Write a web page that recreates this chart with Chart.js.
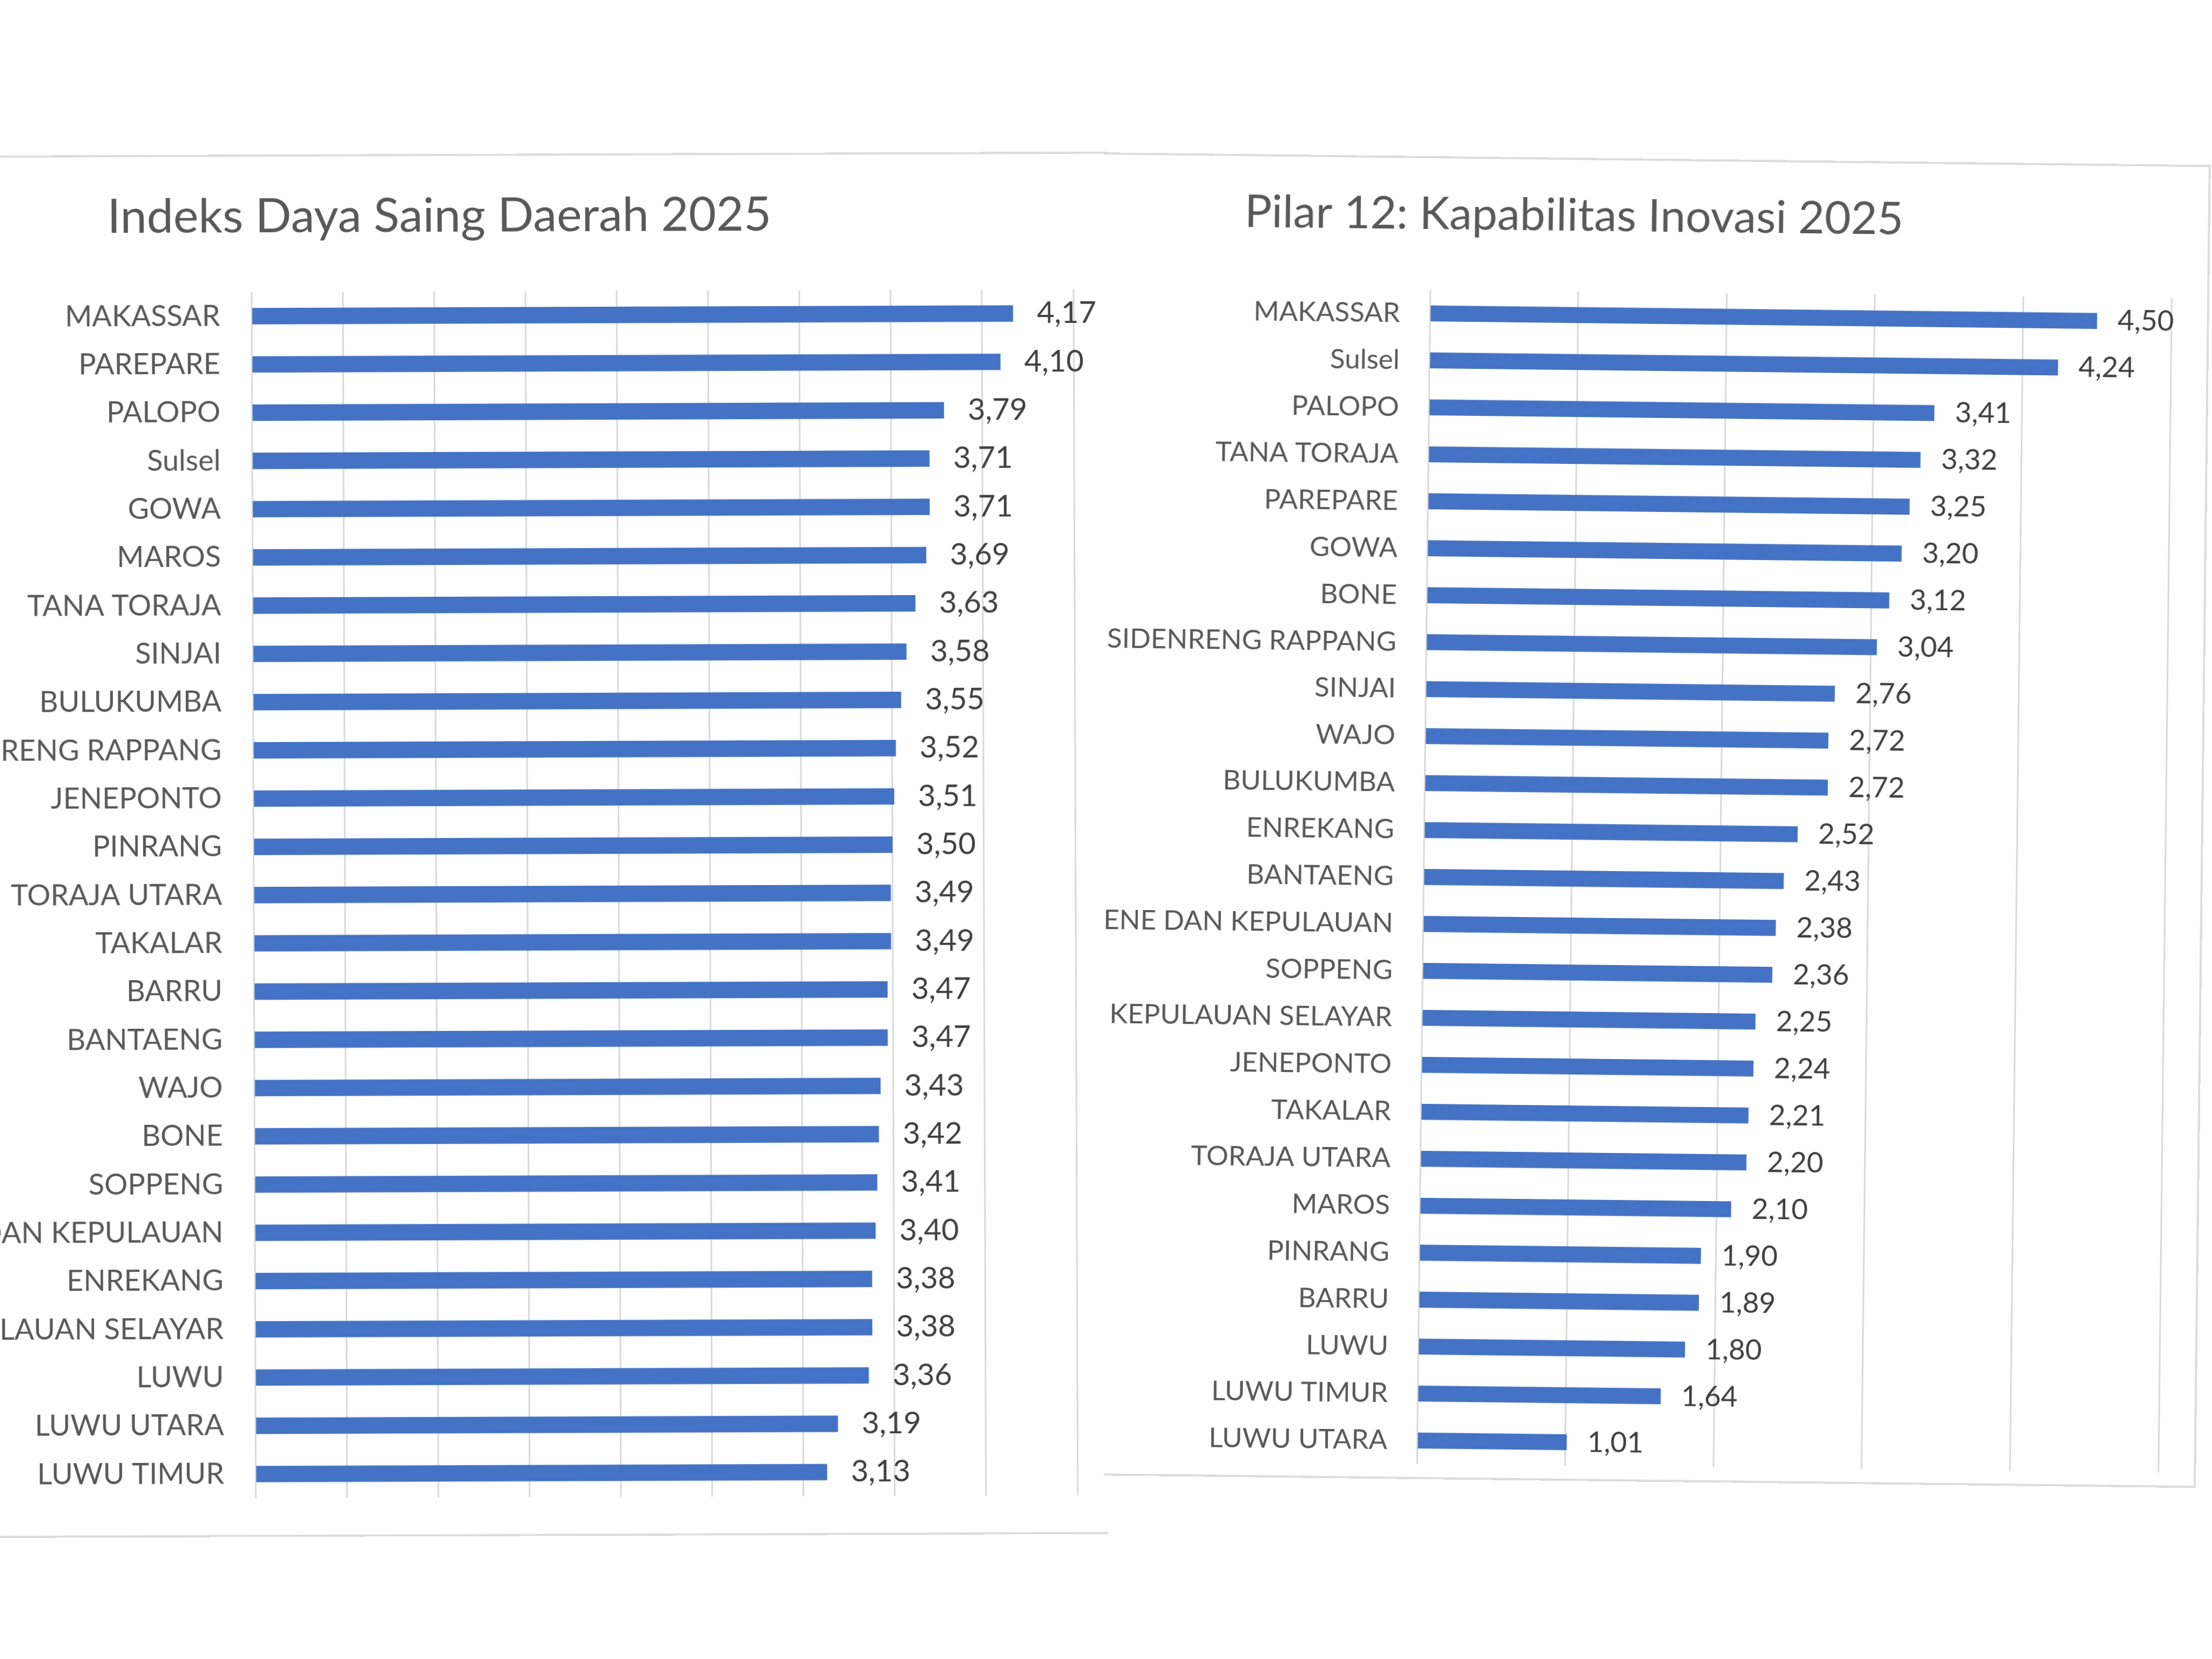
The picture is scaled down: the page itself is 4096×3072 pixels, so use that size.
<!DOCTYPE html>
<html>
<head>
<meta charset="utf-8">
<script src="https://cdn.jsdelivr.net/npm/chart.js@4.4.1/dist/chart.umd.min.js"></script>
<style>
  html, body { margin:0; padding:0; background:#ffffff; }
  body { width:4096px; height:3072px; overflow:hidden; position:relative; }
  #leftClip { position:absolute; left:0; top:0; width:2052px; height:3072px; overflow:hidden; z-index:1; }
  #rightClip { position:absolute; left:2044px; top:0; width:2052px; height:3072px; overflow:hidden; z-index:2; }
  #leftPanel { position:absolute; left:-420px; top:285px; width:2475px; height:2560px; background:#fff;
               transform:rotate(-0.2deg); }
  #rightPanel { position:absolute; left:-320px; top:292px; width:2356px; height:2450px; background:#fff;
               transform:rotate(0.65deg); }
  #leftPanel::after { content:''; position:absolute; left:0; top:0; right:0; bottom:0; pointer-events:none;
               border-top:4px solid #dcdcdc; border-bottom:4px solid #dcdcdc; }
  #rightPanel::after { content:''; position:absolute; left:0; top:0; right:0; bottom:0; pointer-events:none;
               border-top:4px solid #dcdcdc; border-bottom:4px solid #dcdcdc; border-right:4px solid #dcdcdc; }
  .wrap { position:absolute; left:0; top:0; width:100%; height:100%; }
</style>
</head>
<body>
<div id="leftClip"><div id="leftPanel"><div class="wrap"><canvas id="c1"></canvas></div></div></div>
<div id="rightClip"><div id="rightPanel"><div class="wrap"><canvas id="c2"></canvas></div></div></div>
<script>
// ---- Data ----
const leftTitle = "Indeks Daya Saing Daerah 2025";
const leftCategories = ["MAKASSAR","PAREPARE","PALOPO","Sulsel","GOWA","MAROS","TANA TORAJA","SINJAI","BULUKUMBA","SIDENRENG RAPPANG","JENEPONTO","PINRANG","TORAJA UTARA","TAKALAR","BARRU","BANTAENG","WAJO","BONE","SOPPENG","PANGKAJENE DAN KEPULAUAN","ENREKANG","KEPULAUAN SELAYAR","LUWU","LUWU UTARA","LUWU TIMUR"];
const leftValues = [4.17,4.10,3.79,3.71,3.71,3.69,3.63,3.58,3.55,3.52,3.51,3.50,3.49,3.49,3.47,3.47,3.43,3.42,3.41,3.40,3.38,3.38,3.36,3.19,3.13];
const leftAxisMax = 4.5;
const leftAxisStep = 0.5;

const rightTitle = "Pilar 12: Kapabilitas Inovasi 2025";
const rightCategories = ["MAKASSAR","Sulsel","PALOPO","TANA TORAJA","PAREPARE","GOWA","BONE","SIDENRENG RAPPANG","SINJAI","WAJO","BULUKUMBA","ENREKANG","BANTAENG","PANGKAJENE DAN KEPULAUAN","SOPPENG","KEPULAUAN SELAYAR","JENEPONTO","TAKALAR","TORAJA UTARA","MAROS","PINRANG","BARRU","LUWU","LUWU TIMUR","LUWU UTARA"];
const rightValues = [4.50,4.24,3.41,3.32,3.25,3.20,3.12,3.04,2.76,2.72,2.72,2.52,2.43,2.38,2.36,2.25,2.24,2.21,2.20,2.10,1.90,1.89,1.80,1.64,1.01];
const rightAxisMax = 5;
const rightAxisStep = 1;

// ---- Styling ----
const FONT = "Lato, 'Open Sans', sans-serif";
const BAR = "#4472c4";
const GRID = "#d9d9d9";
const TXT = "#595959";
const VAL = "#404040";

const fmt = v => v.toFixed(2).replace('.', ',');

const valueLabels = {
  id: 'valueLabels',
  afterDatasetsDraw(chart, args, opts) {
    const ctx = chart.ctx;
    const meta = chart.getDatasetMeta(0);
    const data = chart.data.datasets[0].data;
    ctx.save();
    ctx.font = opts.size + "px " + FONT;
    ctx.fillStyle = VAL;
    ctx.textAlign = 'left';
    ctx.textBaseline = 'middle';
    meta.data.forEach((bar, i) => {
      ctx.fillText(fmt(data[i]), bar.x + opts.offset, bar.y);
    });
    ctx.restore();
  }
};

function makeChart(id, title, cats, vals, max, step, cfg) {
  return new Chart(document.getElementById(id), {
    type: 'bar',
    data: { labels: cats, datasets: [{ data: vals, backgroundColor: BAR, borderWidth: 0,
            barPercentage: 0.34, categoryPercentage: 1.0 }] },
    plugins: [valueLabels],
    options: {
      indexAxis: 'y',
      responsive: true,
      maintainAspectRatio: false,
      animation: false,
      devicePixelRatio: 1,
      layout: { padding: { left: cfg.padSide, right: cfg.padSide, top: 0, bottom: cfg.padBottom } },
      plugins: {
        legend: { display: false },
        tooltip: { enabled: false },
        title: { display: true, text: title, color: TXT,
                 font: { family: FONT, size: cfg.titleSize, weight: 'normal', lineHeight: 1.2 },
                 padding: { top: cfg.titleTop, bottom: cfg.titleBottom } },
        valueLabels: { size: cfg.valSize, offset: cfg.valOffset }
      },
      scales: {
        x: {
          min: 0, max: max,
          ticks: { display: false, stepSize: step },
          grid: { color: GRID, lineWidth: 3, drawTicks: false },
          border: { display: false }
        },
        y: {
          ticks: { color: TXT, font: { family: FONT, size: cfg.labelSize }, padding: cfg.labelPad, autoSkip: false },
          grid: { display: false, drawTicks: false },
          border: { display: false },
          afterFit(scale) { scale.width = cfg.axisWidth; scale.paddingTop = 0; scale.paddingBottom = 0; }
        }
      }
    }
  });
}

makeChart('c1', leftTitle, leftCategories, leftValues, leftAxisMax, leftAxisStep, {
  padSide: 64, padBottom: 72, titleSize: 88, titleTop: 63, titleBottom: 86,
  valSize: 56, valOffset: 44, labelSize: 54, labelPad: 58, axisWidth: 825
});

makeChart('c2', rightTitle, rightCategories, rightValues, rightAxisMax, rightAxisStep, {
  padSide: 70, padBottom: 28, titleSize: 84, titleTop: 58, titleBottom: 89,
  valSize: 53, valOffset: 38, labelSize: 51, labelPad: 55, axisWidth: 843
});
</script>
</body>
</html>
